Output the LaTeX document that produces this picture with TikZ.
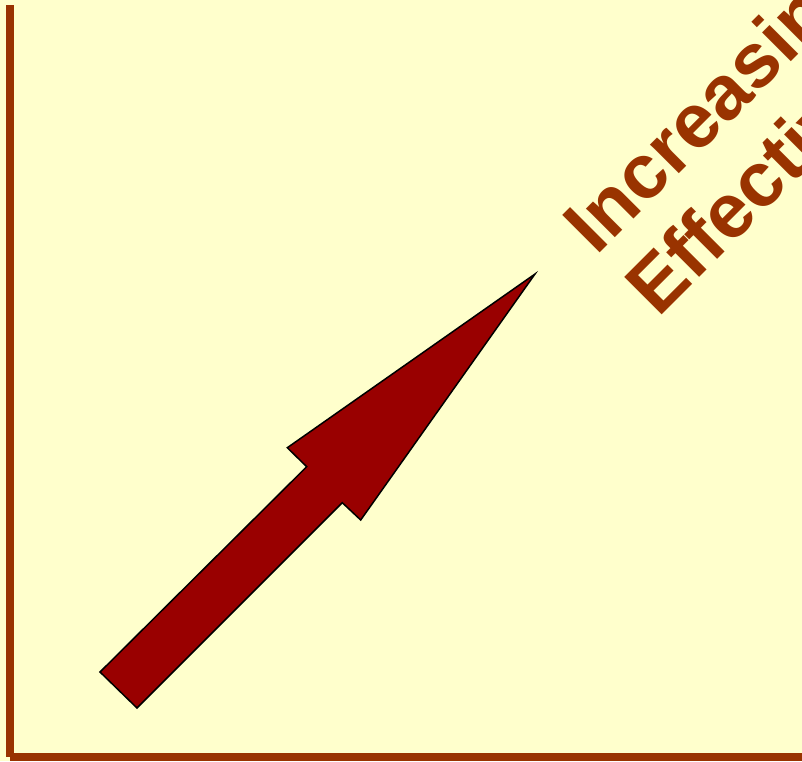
\documentclass[tikz,border=0pt]{standalone}
\usepackage{fontspec}
\setmainfont{Liberation Sans}
\usetikzlibrary{positioning}
\definecolor{paper}{HTML}{FFFFCC}
\definecolor{axisbrown}{HTML}{993300}
\definecolor{arrowred}{HTML}{990000}

\begin{document}
\begin{tikzpicture}[x=1pt,y=-1pt,
  axisline/.style={line width=7.8pt,axisbrown},
  bigarrow/.style={fill=arrowred,draw=black,line width=1.5pt,line join=miter},
  slanted/.style={anchor=base west,rotate=45,inner sep=0pt,axisbrown,
    font=\fontsize{77}{88}\selectfont\bfseries}]
  % Frame
  \useasboundingbox (0,0) rectangle (802,761);
  \clip (0,0) rectangle (802,761);
  \fill[paper] (0,0) rectangle (802,761);
  % Axes
  \coordinate (top) at (9.8,5);
  \coordinate (origin) at (9.8,757);
  \coordinate (right) at (802,757);
  \draw[axisline] (top) -- (origin);
  \draw[axisline] ([xshift=0.4pt]origin) -- (right);
  % Arrow
  \draw[bigarrow] (100,672) -- (306.7,466.7) -- (287.3,447.7) -- (535,274)
    -- (360.7,520) -- (342.3,502.7) -- (137,708) -- cycle;
  % Label
  \node[slanted] (incr) at (596.2,256.5) {Increasing};
  \node[slanted] (eff) at (657.9,318.8) {Effectiveness};
\end{tikzpicture}
\end{document}
